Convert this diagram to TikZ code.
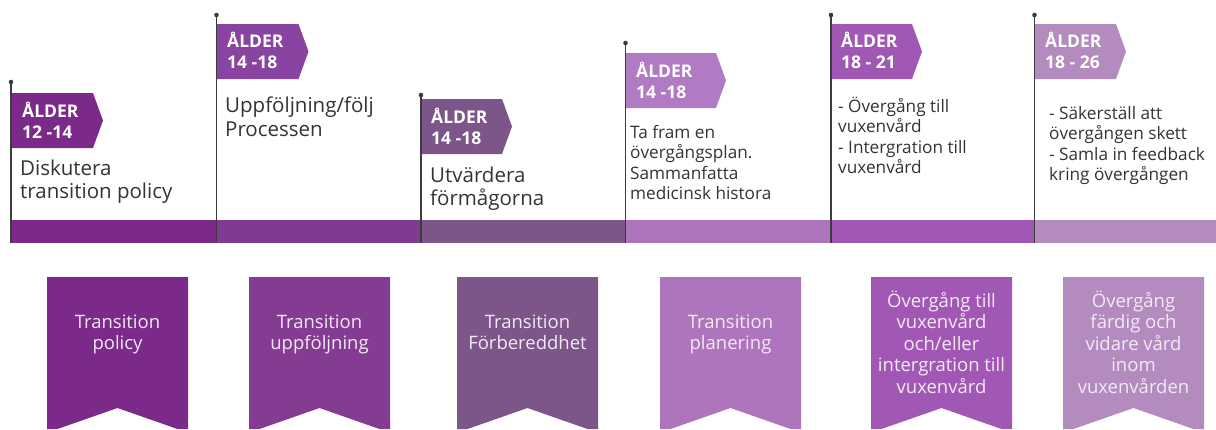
\documentclass[tikz,border=0pt]{standalone}
\usepackage{fontspec}
\setmainfont{Open Sans}
\definecolor{cA}{HTML}{7B2A8A}
\definecolor{cB}{HTML}{7F3B91}
\definecolor{cC}{HTML}{7C5589}
\definecolor{cD}{HTML}{AE75BD}
\definecolor{cE}{HTML}{A158B4}
\definecolor{cF}{HTML}{B38BBF}
\definecolor{fB}{HTML}{8943A0}
\definecolor{fD}{HTML}{B07BC3}
\definecolor{bB}{HTML}{843C93}
\definecolor{txtgray}{HTML}{333333}
\definecolor{polegray}{HTML}{3C3C3C}
\definecolor{bantxt}{HTML}{F3EAF5}
\newcommand{\myflag}[4]{\fill[#4] (#1,#2) -- ++({#3-10},0) -- ++(10,27.5) -- ++(-10,27.5) -- (#1,{#2+55}) -- cycle;}
\newcommand{\mybanner}[2]{\fill[#2] (#1,277) -- ++(141,0) -- ++(0,152) -- ++(-10.5,0) -- ({#1+70.5},408) -- ({#1+10.5},429) -- (#1,429) -- cycle;}
\begin{document}
\begin{tikzpicture}[x=1pt,y=-1pt,
  pole/.style={draw=polegray, line width=1.3pt},
  agetxt/.style={inner sep=0pt, anchor=base west, text=white, font=\bfseries\fontsize{17.5}{21}\selectfont},
  bigdesc/.style={inner sep=0pt, anchor=base west, text=txtgray, font=\fontsize{20.5}{23.5}\selectfont},
  smalldesc/.style={inner sep=0pt, anchor=base west, text=txtgray, font=\fontsize{17.2}{20.5}\selectfont},
  bantext/.style={inner sep=0pt, anchor=base, text=bantxt, font=\fontsize{18.5}{21.5}\selectfont}]
\useasboundingbox (0,0) rectangle (1216,429);
% timeline bar
\fill[cA] (11,220) rectangle (216,243);
\fill[cB] (216,220) rectangle (421,243);
\fill[cC] (421,220) rectangle (626,243);
\fill[cD] (626,220) rectangle (831,243);
\fill[cE] (831,220) rectangle (1035,243);
\fill[cF] (1035,220) rectangle (1216,243);
% flags
\myflag{11}{93}{92}{cA}
\myflag{216.5}{24}{92}{fB}
\myflag{421}{99}{91}{cC}
\myflag{625.5}{53}{100.5}{fD}
\myflag{831}{24}{91}{cE}
\myflag{1034.5}{24}{91.5}{cF}
% poles
\coordinate (t1) at (11,82);     \coordinate (b1) at (11,243);
\coordinate (t2) at (216.5,15);  \coordinate (b2) at (216.5,243);
\coordinate (t3) at (421,95);    \coordinate (b3) at (421,243);
\coordinate (t4) at (625.5,43);  \coordinate (b4) at (625.5,243);
\coordinate (t5) at (831,15);    \coordinate (b5) at (831,243);
\coordinate (t6) at (1034.5,15); \coordinate (b6) at (1034.5,243);
\foreach \i in {1,...,6}{
  \draw[pole] (t\i) -- (b\i);
  \fill[polegray] (t\i) circle (2.3);
}
% age labels
\node[agetxt] (a1) at (22,117) {\parbox[t]{90pt}{ÅLDER\\12 -14}};
\node[agetxt] (a2) at (227,47) {\parbox[t]{90pt}{ÅLDER\\14 -18}};
\node[agetxt] (a3) at (431,123) {\parbox[t]{90pt}{ÅLDER\\14 -18}};
\node[agetxt] (a4) at (636,77) {\parbox[t]{90pt}{ÅLDER\\14 -18}};
\node[agetxt] (a5) at (841,47) {\parbox[t]{90pt}{ÅLDER\\18 - 21}};
\node[agetxt] (a6) at (1045,47) {\parbox[t]{90pt}{ÅLDER\\18 - 26}};
% descriptions
\node[bigdesc] (d1) at (20,175) {\parbox[t]{200pt}{Diskutera\\transition policy}};
\node[bigdesc] (d2) at (225,112.5) {\parbox[t]{200pt}{Uppföljning/följ\\Processen}};
\node[bigdesc] (d3) at (430,182) {\parbox[t]{200pt}{Utvärdera\\förmågorna}};
\node[smalldesc] (d4) at (630,138) {\parbox[t]{200pt}{Ta fram en\\övergångsplan.\\Sammanfatta\\medicinsk histora}};
\node[smalldesc] (d5) at (838,112) {\parbox[t]{200pt}{- Övergång till\\vuxenvård\\- Intergration till\\vuxenvård}};
\node[smalldesc] (d6) at (1049,119) {\parbox[t]{170pt}{- Säkerställ att\\övergången skett\\- Samla in feedback\\kring övergången}};
% banners
\mybanner{47}{cA}
\mybanner{249}{bB}
\mybanner{457}{cC}
\mybanner{660}{cD}
\mybanner{871}{cE}
\mybanner{1063}{cF}
\node[bantext] (n1) at (117.5,328) {\parbox[t]{141pt}{\centering Transition\\policy}};
\node[bantext] (n2) at (319.5,328) {\parbox[t]{141pt}{\centering Transition\\uppföljning}};
\node[bantext] (n3) at (527.5,328) {\parbox[t]{141pt}{\centering Transition\\Förbereddhet}};
\node[bantext] (n4) at (730.5,328) {\parbox[t]{141pt}{\centering Transition\\planering}};
\node[bantext] (n5) at (941.5,307) {\parbox[t]{141pt}{\centering Övergång till\\vuxenvård\\och/eller\\intergration till\\vuxenvård}};
\node[bantext] (n6) at (1133.5,307) {\parbox[t]{141pt}{\centering Övergång\\färdig och\\vidare vård\\inom\\vuxenvården}};
\end{tikzpicture}
\end{document}
